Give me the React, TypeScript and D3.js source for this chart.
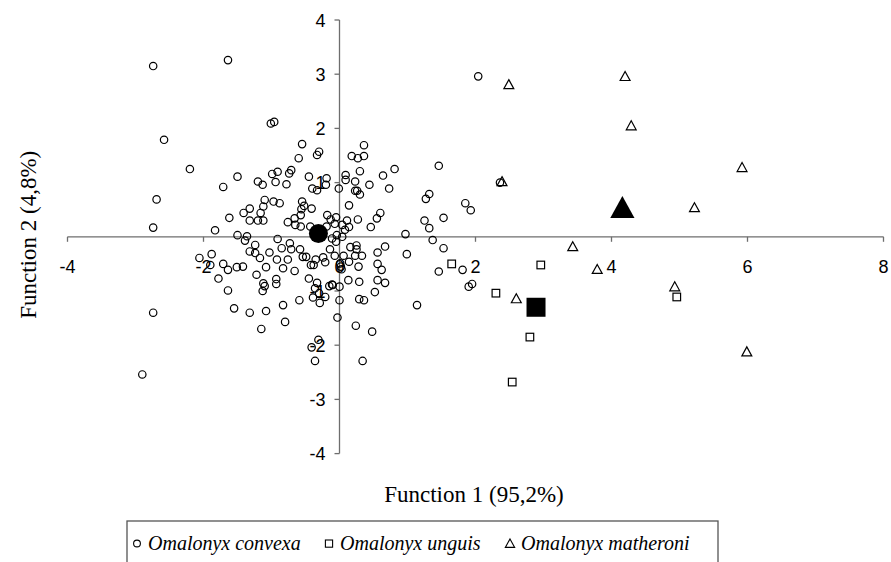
import * as d3 from 'd3'

// discriminant scores [function 1, function 2]
const convexa: [number, number][] = [
  [-2.74, 3.15], [-1.64, 3.26], [2.04, 2.96], [-2.58, 1.79], [-2.2, 1.25], [-1.5, 1.11],
  [-1.71, 0.92], [-2.69, 0.69], [-1.62, 0.35], [-2.74, 0.17], [-1.83, 0.12], [-1.5, 0.03],
  [-0.55, 1.71], [-0.3, 1.57], [-0.33, 1.51], [-0.6, 1.45], [-0.99, 1.16], [-0.91, 1.2],
  [-0.71, 1.23], [-0.74, 1.17], [-1.2, 1.02], [-1.13, 0.96], [-0.94, 1.01], [-0.78, 0.97],
  [-0.45, 1.11], [-0.19, 1.08], [-0.2, 0.96], [-0.4, 0.89], [-0.33, 0.86], [-0.01, 0.89],
  [-1.1, 0.68], [-0.97, 0.65], [-0.88, 0.62], [-1.12, 0.56], [-0.55, 0.65], [-0.52, 0.57],
  [-0.56, 0.51], [-0.41, 0.52], [-1.32, 0.52], [-1.41, 0.44], [-1.16, 0.44], [-1.32, 0.3],
  [-1.2, 0.3], [-1.12, 0.3], [-0.76, 0.27], [-0.66, 0.34], [-0.57, 0.4], [-0.65, 0.22],
  [-0.57, 0.19], [-0.18, 0.4], [-0.13, 0.32], [-0.05, 0.36], [-0.07, 0.24], [-0.19, 0.19],
  [-0.43, 0.19], [-1.36, 0.01], [-0.91, -0.04], [0.36, 1.69], [0.18, 1.49], [0.27, 1.45],
  [0.36, 1.49], [1.46, 1.31], [0.3, 1.21], [0.09, 1.14], [0.09, 1.05], [0.81, 1.25],
  [0.64, 1.13], [0.23, 1.02], [0.44, 0.96], [0.73, 0.89], [0.23, 0.85], [0.26, 0.85],
  [0.3, 0.78], [1.32, 0.79], [1.27, 0.7], [0.14, 0.58], [0.6, 0.44], [0.55, 0.34],
  [0.27, 0.32], [1.25, 0.3], [1.32, 0.16], [0.46, 0.18], [0.04, 0.22], [0.11, 0.3],
  [0.14, 0.18], [0.08, 0.13], [0.97, 0.05], [0.04, 0.0], [-0.04, 0.03], [1.37, -0.06],
  [0.16, -0.19], [0.25, -0.16], [0.25, -0.23], [0.33, -0.35], [0.23, -0.35], [0.67, -0.18],
  [0.56, -0.29], [0.99, -0.32], [-0.07, -0.35], [0.06, -0.35], [0.14, -0.46], [0.01, -0.49],
  [0.02, -0.55], [0.03, -0.6], [0.28, -0.55], [0.56, -0.5], [0.62, -0.61], [1.46, -0.64],
  [0.13, -0.8], [0.29, -0.83], [0.56, -0.8], [0.67, -0.85], [-0.1, -0.89], [0.0, -0.92],
  [0.52, -1.02], [0.0, -1.17], [0.29, -1.15], [0.36, -1.17], [1.14, -1.26], [-0.03, -1.49],
  [0.24, -1.64], [0.48, -1.75], [-1.39, -0.07], [-1.24, -0.15], [-0.73, -0.12], [-0.85, -0.21],
  [-0.71, -0.23], [-0.58, -0.23], [-1.32, -0.27], [-1.24, -0.3], [-1.17, -0.39], [-1.03, -0.29],
  [-0.92, -0.42], [-0.76, -0.42], [-0.54, -0.37], [-0.49, -0.37], [-0.35, -0.42], [-0.24, -0.38],
  [-0.14, -0.23], [-0.11, -0.03], [-0.05, -0.09], [-0.42, -0.52], [-0.38, -0.52], [-0.21, -0.47],
  [-1.51, -0.56], [-1.42, -0.55], [-1.08, -0.56], [-0.83, -0.58], [-0.66, -0.63], [-1.22, -0.7],
  [-1.12, -0.86], [-1.1, -0.91], [-1.13, -1.0], [-0.93, -0.78], [-0.93, -0.87], [-0.45, -0.77],
  [-0.33, -0.85], [-0.36, -0.95], [-0.3, -1.04], [-0.39, -1.12], [-0.29, -1.22], [-0.21, -1.11],
  [-0.15, -0.91], [-0.11, -0.88], [-0.83, -1.26], [-0.59, -1.17], [-1.55, -1.32], [-1.32, -1.4],
  [-1.08, -1.37], [-0.8, -1.57], [-1.15, -1.7], [-0.31, -1.9], [-2.06, -0.39], [-1.88, -0.32],
  [-1.9, -0.52], [-1.71, -0.5], [-1.64, -0.61], [-1.78, -0.77], [-1.64, -0.99], [-2.74, -1.4],
  [-2.9, -2.54], [-0.41, -2.04], [-0.36, -2.29], [0.34, -2.29], [-1.01, 2.09], [-0.96, 2.12],
  [2.36, 1.0], [1.85, 0.62], [1.93, 0.49], [1.53, 0.35], [1.53, -0.21], [1.81, -0.61],
  [1.9, -0.92], [1.95, -0.87],
]
const unguis: [number, number][] = [
  [1.65, -0.5], [2.96, -0.52], [2.3, -1.04], [2.8, -1.85], [2.54, -2.68], [4.96, -1.11],
]
const matheroni: [number, number][] = [
  [2.49, 2.8], [4.2, 2.95], [4.29, 2.04], [5.92, 1.27], [2.39, 1.01], [5.22, 0.53],
  [3.43, -0.19], [3.79, -0.61], [2.6, -1.15], [4.93, -0.93], [5.99, -2.13],
]
// group centroids
const centroidConvexa: [number, number] = [-0.31, 0.06]
const centroidUnguis: [number, number] = [2.89, -1.3]
const centroidMatheroni: [number, number] = [4.16, 0.51]

const xTicks = [-4, -2, 0, 2, 4, 6, 8]
const yTicks = [-4, -3, -2, -1, 0, 1, 2, 3, 4]
const legendItems = ['Omalonyx convexa', 'Omalonyx unguis', 'Omalonyx matheroni']

const W = 891
const H = 562

const x = d3.scaleLinear().domain([-4, 8]).range([67.5, 883.5])
const y = d3.scaleLinear().domain([-4, 4]).range([453.6, 20])

const tri = (cx: number, cy: number, s: number) =>
  `M${cx},${cy - s * 0.6}L${cx + s * 0.55},${cy + s * 0.4}L${cx - s * 0.55},${cy + s * 0.4}Z`

export default function App() {
  const x0 = x(0)
  const y0 = y(0)
  const axisColor = '#6e6e6e'
  const tickFont = 'Liberation Sans, Arial, sans-serif'
  const serif = 'Liberation Serif, Times New Roman, serif'
  const legendX = [137, 329, 510]

  return (
    <svg
      width={W}
      height={H}
      style={{ position: 'absolute', left: 0, top: 0, background: '#fff' }}
    >
      <defs>
        <clipPath id="ytitle-clip">
          <rect x={0} y={150} width={60} height={300} />
        </clipPath>
      </defs>

      {/* axes through the origin */}
      <line x1={x(-4)} x2={x(8)} y1={y0} y2={y0} stroke={axisColor} strokeWidth={1.3} />
      <line x1={x0} x2={x0} y1={y(4)} y2={y(-4)} stroke={axisColor} strokeWidth={1.3} />
      {xTicks.map(t => (
        <g key={'xt' + t}>
          <line x1={x(t)} x2={x(t)} y1={y0} y2={y0 + 5} stroke={axisColor} strokeWidth={1.3} />
          <text x={x(t)} y={y0 + 36} textAnchor="middle" fontFamily={tickFont} fontSize={18}>
            {t}
          </text>
        </g>
      ))}
      {yTicks.map(t => (
        <g key={'yt' + t}>
          <line x1={x0 - 5} x2={x0} y1={y(t)} y2={y(t)} stroke={axisColor} strokeWidth={1.3} />
          {t !== 0 && (
            <text x={x0 - 14} y={y(t) + 6.5} textAnchor="end" fontFamily={tickFont} fontSize={18}>
              {t}
            </text>
          )}
        </g>
      ))}

      {/* points */}
      {convexa.map((d, i) => (
        <circle key={'c' + i} cx={x(d[0])} cy={y(d[1])} r={3.7} fill="none" stroke="#000" strokeWidth={1.2} />
      ))}
      {unguis.map((d, i) => (
        <rect key={'u' + i} x={x(d[0]) - 3.8} y={y(d[1]) - 3.8} width={7.6} height={7.6} fill="#fff" stroke="#000" strokeWidth={1.2} />
      ))}
      {matheroni.map((d, i) => (
        <path key={'m' + i} d={tri(x(d[0]), y(d[1]), 9)} fill="none" stroke="#000" strokeWidth={1.2} />
      ))}

      {/* centroids */}
      <circle cx={x(centroidConvexa[0])} cy={y(centroidConvexa[1])} r={9.5} fill="#000" />
      <rect x={x(centroidUnguis[0]) - 9.5} y={y(centroidUnguis[1]) - 9.5} width={19} height={19} fill="#000" />
      <path d={tri(x(centroidMatheroni[0]), y(centroidMatheroni[1]), 22)} fill="#000" />

      {/* axis titles */}
      <text x={474} y={502} textAnchor="middle" fontFamily={serif} fontSize={23}>
        Function 1 (95,2%)
      </text>
      <g clipPath="url(#ytitle-clip)">
        <text
          transform={`translate(36,${y0 - 2}) rotate(-90)`}
          textAnchor="middle"
          fontFamily={serif}
          fontSize={23}
        >
          Function 2 (4,8%)
        </text>
      </g>

      {/* legend */}
      <rect x={127} y={521} width={591} height={45} fill="none" stroke="#555" strokeWidth={1.3} />
      {legendItems.map((name, i) => (
        <g key={name}>
          {i === 0 && <circle cx={legendX[i]} cy={543.5} r={3.4} fill="none" stroke="#000" strokeWidth={1.1} />}
          {i === 1 && <rect x={legendX[i] - 3.6} y={540} width={7.2} height={7.2} fill="none" stroke="#000" strokeWidth={1.1} />}
          {i === 2 && <path d={tri(legendX[i], 544, 8.5)} fill="none" stroke="#000" strokeWidth={1.1} />}
          <text x={legendX[i] + 11} y={550} fontFamily={serif} fontStyle="italic" fontSize={20}>
            {name}
          </text>
        </g>
      ))}
    </svg>
  )
}
